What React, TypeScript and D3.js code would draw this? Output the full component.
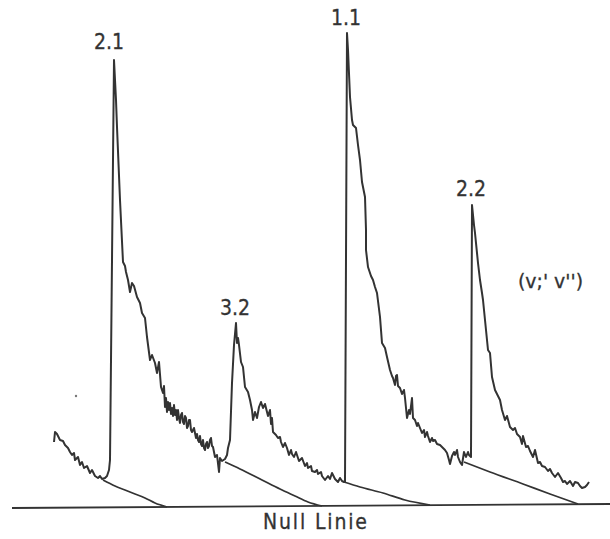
import React from "react";
import * as d3 from "d3";

// Spectrum trace: [channel, counts]
const trace21: [number, number][] = [
  [54, 66], [55, 76], [57, 74], [60, 68], [63, 67], [65, 63], [68, 60], [70, 56], [72, 53], [74, 55],
  [75, 48], [78, 51], [80, 43], [82, 46], [84, 40], [87, 42], [90, 35], [92, 38], [95, 32], [98, 30],
  [100, 32], [102, 29], [105, 30], [107, 32], [109, 38], [110, 48], [114, 448], [116, 408], [117, 381],
  [120, 308], [123, 246], [125, 242], [126, 236], [128, 228], [130, 216], [132, 225], [134, 222],
  [137, 211], [140, 205], [142, 195], [145, 190], [147, 171], [150, 148], [152, 153], [155, 145],
  [157, 135], [159, 146], [161, 121], [163, 115], [164, 122], [165, 101], [166, 110], [167, 96],
  [168, 106], [169, 98], [170, 105], [171, 94], [172, 100], [173, 92], [174, 103], [175, 93],
  [176, 98], [177, 88], [178, 98], [179, 90], [180, 85], [181, 93], [182, 95], [183, 86], [184, 84],
  [185, 92], [186, 90], [187, 80], [188, 82], [189, 88], [190, 88], [191, 78], [192, 76], [194, 80],
  [195, 75], [196, 70], [197, 74], [198, 68], [199, 66], [200, 72], [201, 64], [202, 62], [203, 68],
  [204, 60], [205, 58], [206, 64], [207, 66], [208, 60], [209, 62], [210, 68], [211, 70], [212, 62],
  [213, 61], [214, 56], [215, 51], [217, 53], [219, 36], [220, 50], [222, 47], [225, 49],
];

const trace32: [number, number][] = [
  [227, 53], [228, 60], [230, 68], [232, 125], [234, 163], [236, 185], [237, 165], [238, 170],
  [239, 163], [241, 146], [243, 141], [245, 121], [248, 116], [250, 108], [252, 98], [253, 88],
  [255, 96], [257, 90], [259, 101], [261, 106], [263, 100], [265, 104], [267, 96], [268, 92],
  [270, 98], [271, 84], [272, 90], [273, 76], [276, 73], [278, 70], [280, 71], [281, 66], [283, 61],
  [285, 65], [287, 60], [289, 53], [291, 58], [292, 54], [294, 51], [296, 56], [297, 53], [299, 47],
  [302, 50], [305, 42], [307, 45], [308, 40], [311, 42], [312, 37], [315, 36], [317, 38], [318, 34],
  [321, 36], [322, 32], [325, 28], [328, 32], [330, 29], [332, 35], [334, 31], [335, 29], [338, 26],
  [340, 30], [342, 27], [344, 26],
];

const trace11: [number, number][] = [
  [345, 26], [347, 475], [348, 458], [350, 411], [352, 388], [353, 383], [356, 380], [358, 363],
  [360, 348], [362, 326], [365, 311], [366, 278], [366, 258], [368, 241], [371, 232], [373, 228],
  [375, 221], [377, 215], [380, 191], [382, 165], [385, 160], [387, 151], [390, 138], [392, 132],
  [393, 130], [395, 123], [396, 132], [397, 133], [398, 122], [400, 120], [402, 114], [404, 118],
  [405, 110], [407, 90], [409, 98], [410, 94], [412, 110], [413, 90], [415, 88], [417, 82], [418, 85],
  [420, 80], [422, 75], [424, 78], [425, 71], [427, 76], [428, 72], [430, 66], [432, 70], [433, 67],
  [435, 68], [437, 64], [440, 63], [443, 60], [445, 58], [447, 55], [449, 48], [450, 44], [452, 52],
  [454, 56], [455, 53], [457, 58], [458, 51], [460, 46], [462, 43], [464, 56], [466, 51], [468, 56],
  [469, 53], [471, 51],
];

const trace22: [number, number][] = [
  [472, 303], [474, 283], [475, 275], [478, 245], [480, 228], [482, 215], [483, 208], [485, 188],
  [488, 158], [490, 155], [492, 131], [495, 118], [498, 112], [500, 108], [502, 98], [505, 88],
  [507, 92], [510, 81], [513, 78], [515, 80], [517, 74], [520, 71], [522, 64], [523, 72], [526, 61],
  [528, 62], [530, 57], [533, 51], [535, 58], [538, 45], [540, 46], [542, 42], [545, 41], [548, 37],
  [550, 39], [552, 35], [555, 31], [558, 35], [561, 30], [563, 26], [565, 27], [567, 24], [570, 27],
  [573, 22], [575, 26], [578, 25], [580, 22], [582, 20], [585, 21], [587, 23], [589, 26],
];

// Extrapolated decay tails down to the zero line
const tail21: [number, number][] = [[103, 28], [115, 22], [125, 18], [135, 14], [145, 10], [155, 5], [167, 1]];
const tail32: [number, number][] = [[225, 46], [240, 39], [262, 28], [280, 19], [295, 12], [308, 6], [322, 2]];
const tail11: [number, number][] = [[344, 26], [360, 21], [383, 15], [405, 8], [430, 3]];
const tail22: [number, number][] = [[464, 46], [490, 36], [523, 24], [550, 14], [578, 4]];

const nullLine: [number, number][] = [[12, 0], [610, 4]];

const peakLabels = ["2.1", "3.2", "1.1", "2.2"];
const peakChannels = [109, 235, 346, 471];
const peakLabelCounts = [459, 193, 483, 312];

const speck: [number, number] = [76, 112];

export default function App() {
  const W = 610;
  const H = 539;
  const x = d3.scaleLinear().domain([0, 610]).range([0, W]);
  const y = d3.scaleLinear().domain([0, 508]).range([508, 0]);

  const line = d3.line<[number, number]>().x((d) => x(d[0])).y((d) => y(d[1]));
  const smooth = d3
    .line<[number, number]>()
    .x((d) => x(d[0]))
    .y((d) => y(d[1]))
    .curve(d3.curveMonotoneX);

  const trace = [...trace21, ...trace32, ...trace11, ...trace22];
  const tails = [tail21, tail32, tail11, tail22];
  const ink = "#333";
  const font = "'DejaVu Sans Condensed', 'DejaVu Sans', sans-serif";

  return (
    <svg
      width={W}
      height={H}
      style={{ position: "absolute", left: 0, top: 0, background: "#fff" }}
      fontFamily={font}
    >
      <rect x={0} y={0} width={W} height={H} fill="#fff" />
      <path d={line(nullLine) || ""} fill="none" stroke={ink} strokeWidth={1.8} />
      {tails.map((t, i) => (
        <path key={i} d={smooth(t) || ""} fill="none" stroke={ink} strokeWidth={1.7} />
      ))}
      <path
        d={line(trace) || ""}
        fill="none"
        stroke={ink}
        strokeWidth={2}
        strokeLinejoin="round"
      />
      <circle cx={x(speck[0])} cy={y(speck[1])} r={1.2} fill="#777" />
      {peakLabels.map((lab, i) => (
        <text
          key={lab}
          x={x(peakChannels[i])}
          y={y(peakLabelCounts[i])}
          textAnchor="middle"
          fontSize={21}
          fill={ink}
          stroke={ink}
          strokeWidth={0.3}
          style={{ fontStretch: "condensed" }}
        >
          {lab}
        </text>
      ))}
      <text
        x={518}
        y={288}
        fontSize={20}
        fill={ink}
        stroke={ink}
        strokeWidth={0.3}
        textLength={65}
        lengthAdjust="spacingAndGlyphs"
        style={{ fontStretch: "condensed" }}
      >
        (v;' v'')
      </text>
      <text
        x={263}
        y={529}
        fontSize={21}
        fill={ink}
        stroke={ink}
        strokeWidth={0.3}
        textLength={104}
        lengthAdjust="spacing"
        style={{ fontStretch: "condensed" }}
      >
        Null Linie
      </text>
    </svg>
  );
}
